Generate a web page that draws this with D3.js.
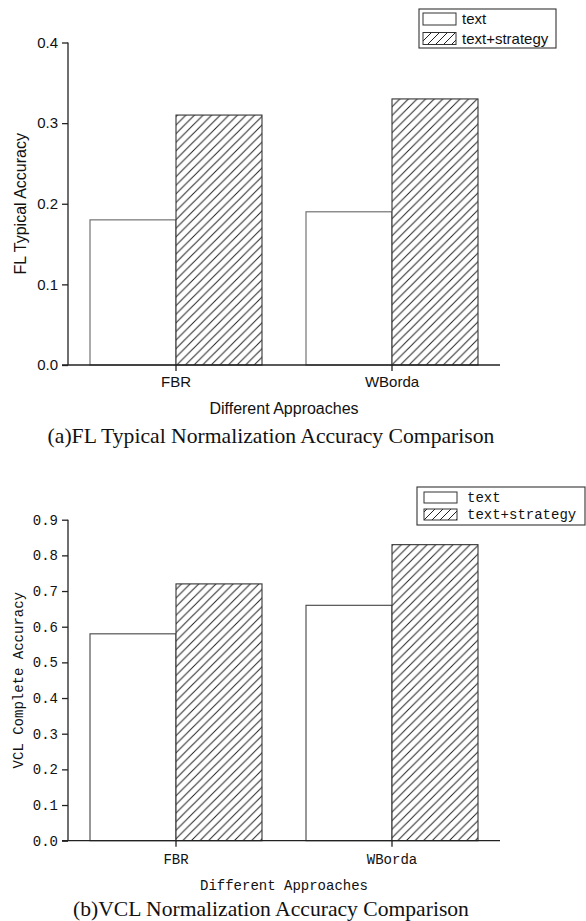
<!DOCTYPE html>
<html>
<head>
<meta charset="utf-8">
<script src="https://cdn.jsdelivr.net/npm/d3@7"></script>
<style>
  html, body { margin: 0; padding: 0; background: #fff; }
  svg { display: block; }
</style>
</head>
<body>
<svg id="chart" width="586" height="921"></svg>
<script>
// ---- data ----
const categories = ["FBR", "WBorda"];
const seriesNames = ["text", "text+strategy"];
const flText = [0.18, 0.19];
const flStrategy = [0.31, 0.33];
const vclText = [0.58, 0.66];
const vclStrategy = [0.72, 0.83];
const flTicks = [0.0, 0.1, 0.2, 0.3, 0.4];
const vclTicks = [0.0, 0.1, 0.2, 0.3, 0.4, 0.5, 0.6, 0.7, 0.8, 0.9];

const svg = d3.select("#chart");
const defs = svg.append("defs");

function hatch(id, p, color) {
  const pat = defs.append("pattern")
    .attr("id", id).attr("patternUnits", "userSpaceOnUse")
    .attr("width", p).attr("height", p);
  pat.append("rect").attr("width", p).attr("height", p).attr("fill", "#fff");
  pat.append("path")
    .attr("d", `M0,${p} L${p},0 M${-p/2},${p/2} L${p/2},${-p/2} M${p/2},${p*1.5} L${p*1.5},${p/2}`)
    .attr("stroke", color).attr("stroke-width", 1).attr("fill", "none");
}
hatch("hatchA", 8.6, "#222");
hatch("hatchL", 8, "#222");

function fitText(sel, target) {
  const w = sel.node().getComputedTextLength();
  const fs = parseFloat(sel.attr("font-size"));
  sel.attr("font-size", fs * target / w);
}

function drawPanel(cfg) {
  const g = svg.append("g");
  const x = d3.scaleBand().domain(categories).range([68, 500]).padding(0);
  const y = d3.scaleLinear().domain(cfg.domain).range([cfg.y0, cfg.yTop]);
  const barW = 86;
  const data = categories.map((c, i) => ({ c, v: [cfg.a[i], cfg.b[i]] }));

  // bars
  const grp = g.selectAll(".grp").data(data).enter().append("g");
  grp.append("rect")
    .attr("x", d => x(d.c) + x.bandwidth() / 2 - barW)
    .attr("y", d => y(d.v[0]))
    .attr("width", barW)
    .attr("height", d => y(0) - y(d.v[0]))
    .attr("fill", "#fff").attr("stroke", cfg.plainStroke).attr("stroke-width", 1.1);
  grp.append("rect")
    .attr("x", d => x(d.c) + x.bandwidth() / 2)
    .attr("y", d => y(d.v[1]))
    .attr("width", barW)
    .attr("height", d => y(0) - y(d.v[1]))
    .attr("fill", "url(#hatchA)").attr("stroke", "#333").attr("stroke-width", 1.1);

  // axes
  const yAxis = d3.axisLeft(y).tickValues(cfg.ticks).tickFormat(d3.format(".1f"))
    .tickSize(6).tickPadding(4);
  const ya = g.append("g").attr("transform", "translate(68,0)").call(yAxis);
  ya.select(".domain").attr("d", `M0,${cfg.yTop}V${cfg.y0}`);
  const xAxis = d3.axisBottom(x).tickSize(6).tickPadding(cfg.xPad).tickSizeOuter(0);
  const xa = g.append("g").attr("transform", `translate(0,${cfg.y0})`).call(xAxis);
  xa.select(".domain").attr("d", `M62,0H500`);
  [ya, xa].forEach(a => {
    a.selectAll("path,line").attr("stroke", "#222").attr("stroke-width", 1.3);
    a.selectAll("text").attr("font-family", cfg.font).attr("font-size", cfg.tickFs)
      .attr("fill", "#111");
  });

  // axis titles
  g.append("text").attr("x", 284).attr("y", cfg.xTitleY).attr("dy", "0.35em")
    .attr("text-anchor", "middle").attr("font-family", cfg.font)
    .attr("font-size", cfg.titleFs).attr("fill", "#111").text("Different Approaches");
  g.append("text")
    .attr("transform", `translate(${cfg.yTitleX},${(cfg.y0 + cfg.yTop) / 2}) rotate(-90)`)
    .attr("dy", "0.35em").attr("text-anchor", "middle").attr("font-family", cfg.font)
    .attr("font-size", cfg.titleFs).attr("fill", "#111").text(cfg.yTitle);

  // caption
  const cap = g.append("text").attr("x", cfg.capX).attr("y", cfg.capY).attr("dy", "0.35em")
    .attr("text-anchor", "middle").attr("font-family", "'Liberation Serif', serif")
    .attr("font-size", 20).attr("fill", "#111").text(cfg.caption);
  fitText(cap, cfg.capW);

  // legend
  const L = cfg.legend;
  g.append("rect").attr("x", L.x).attr("y", L.y).attr("width", L.w).attr("height", L.h)
    .attr("fill", "#fff").attr("stroke", "#333").attr("stroke-width", 1.1);
  seriesNames.forEach((s, i) => {
    const ry = L.rows[i];
    g.append("rect").attr("x", L.sx).attr("y", ry - L.sh / 2).attr("width", 33).attr("height", L.sh)
      .attr("fill", i === 0 ? "#fff" : "url(#hatchL)").attr("stroke", "#333").attr("stroke-width", 1);
    g.append("text").attr("x", L.tx).attr("y", ry).attr("dy", "0.35em")
      .attr("font-family", cfg.font).attr("font-size", cfg.legFs).attr("fill", "#111").text(s);
  });
}

drawPanel({
  a: flText, b: flStrategy, domain: [0, 0.4], ticks: flTicks,
  y0: 365, yTop: 42.5, plainStroke: "#666",
  font: "'Liberation Sans', Arial, sans-serif", tickFs: 15, titleFs: 16, legFs: 15, xPad: 5,
  xTitleY: 408, yTitleX: 20, yTitle: "FL Typical Accuracy",
  capX: 271, capY: 435, capW: 447,
  caption: "(a)FL Typical Normalization Accuracy Comparison",
  legend: { x: 419, y: 9, w: 137, h: 39, sx: 423, sh: 12, tx: 462, rows: [19, 38.5] }
});

drawPanel({
  a: vclText, b: vclStrategy, domain: [0, 0.9], ticks: vclTicks,
  y0: 840.7, yTop: 519.7, plainStroke: "#444",
  font: "'Liberation Mono', 'DejaVu Sans Mono', monospace", tickFs: 14, titleFs: 14, legFs: 14, xPad: 7,
  xTitleY: 885, yTitleX: 18, yTitle: "VCL Complete Accuracy",
  capX: 271, capY: 908, capW: 396,
  caption: "(b)VCL Normalization Accuracy Comparison",
  legend: { x: 417, y: 487, w: 168, h: 38, sx: 424, sh: 11, tx: 467, rows: [497.5, 514.5] }
});
</script>
</body>
</html>
